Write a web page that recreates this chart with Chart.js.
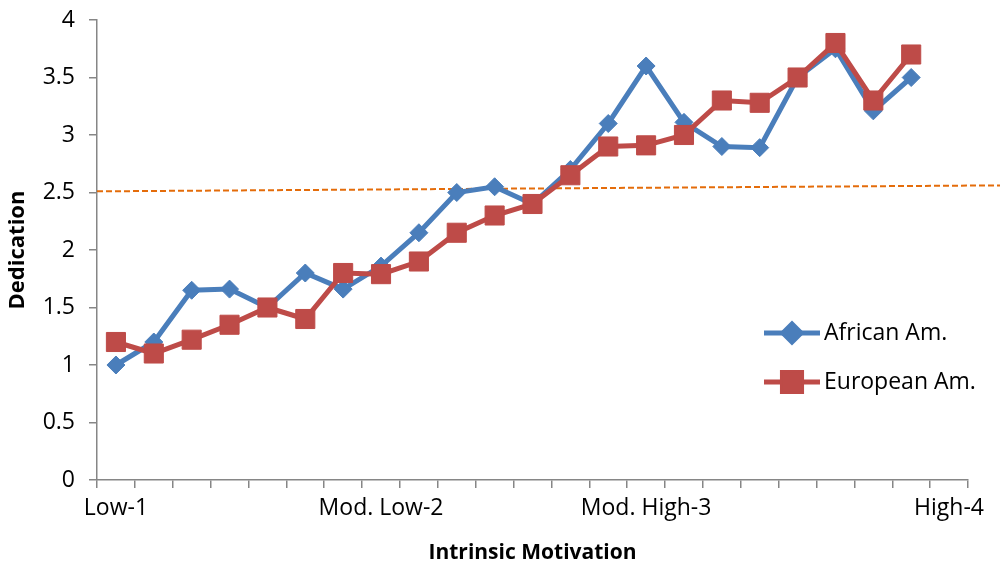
<!DOCTYPE html>
<html lang="en">
<head>
  <meta charset="UTF-8" />
  <title>Dedication by Intrinsic Motivation</title>
  <script src="https://cdn.jsdelivr.net/npm/chart.js"></script>
  <style>
    body {
      margin: 0;
      background: #fff;
    }
    #wrap {
      width: 1000px;
      height: 566px;
    }
  </style>
</head>
<body>
  <div id="wrap">
    <canvas id="lineChart" width="1000" height="566"></canvas>
  </div>

  <script>
    // 23 category slots, only four of them labelled
    const categories = [
      'Low-1', '', '', '', '', '', '',
      'Mod. Low-2', '', '', '', '', '', '',
      'Mod. High-3', '', '', '', '', '', '', '',
      'High-4'
    ];
    const africanAm = [1.0, 1.2, 1.65, 1.66, 1.5, 1.8, 1.66, 1.86, 2.15, 2.5, 2.55, 2.4,
      2.7, 3.1, 3.6, 3.11, 2.9, 2.89, 3.5, 3.75, 3.21, 3.5, null];
    const europeanAm = [1.2, 1.1, 1.22, 1.35, 1.5, 1.4, 1.8, 1.79, 1.9, 2.15, 2.3, 2.4,
      2.65, 2.9, 2.91, 3.0, 3.3, 3.28, 3.5, 3.8, 3.3, 3.7, null];
    const yTicks = [0, 0.5, 1, 1.5, 2, 2.5, 3, 3.5, 4];

    // dashed reference line, value at the left and right edge of the plot
    const refLine = [2.51, 2.56];

    const blue = '#4a7ebb';
    const red = '#be4b48';
    const axisGray = '#868686';
    const font = "'Open Sans', sans-serif";

    // dashed orange line, runs on past the plot to the canvas edge
    const refLinePlugin = {
      id: 'refLine',
      beforeDatasetsDraw(chart) {
        const { ctx, chartArea, scales } = chart;
        const y0 = scales.y.getPixelForValue(refLine[0]);
        const y1 = scales.y.getPixelForValue(refLine[1]);
        const slope = (y1 - y0) / (chartArea.right - chartArea.left);
        const xEnd = chart.width;
        ctx.save();
        ctx.strokeStyle = '#e46c0a';
        ctx.lineWidth = 2;
        ctx.setLineDash([6, 3]);
        ctx.beginPath();
        ctx.moveTo(chartArea.left, y0);
        ctx.lineTo(xEnd, y0 + slope * (xEnd - chartArea.left));
        ctx.stroke();
        ctx.restore();
      }
    };

    // legend drawn inside the plot, lower right
    const innerLegend = {
      id: 'innerLegend',
      afterDatasetsDraw(chart) {
        const { ctx, chartArea } = chart;
        const x = chartArea.right - 204;
        let y = chartArea.top + 313;
        ctx.save();
        chart.data.datasets.forEach(ds => {
          ctx.strokeStyle = ds.borderColor;
          ctx.lineWidth = 5;
          ctx.beginPath();
          ctx.moveTo(x, y);
          ctx.lineTo(x + 56, y);
          ctx.stroke();
          Chart.helpers.drawPoint(ctx, {
            pointStyle: ds.pointStyle,
            radius: ds.pointRadius,
            borderWidth: 1
          }, x + 28, y);
          ctx.fillStyle = ds.backgroundColor;
          ctx.fill();
          ctx.fillStyle = '#000';
          ctx.font = '23px ' + font;
          ctx.textBaseline = 'middle';
          ctx.fillText(ds.label, x + 60, y);
          y += 49;
        });
        ctx.restore();
      }
    };

    const ctx = document.getElementById('lineChart').getContext('2d');
    new Chart(ctx, {
      type: 'line',
      data: {
        labels: categories,
        datasets: [
          {
            label: 'African Am.',
            data: africanAm,
            borderColor: blue,
            backgroundColor: blue,
            borderWidth: 5,
            pointStyle: 'rectRot',
            pointRadius: 9,
            pointBorderWidth: 1,
            tension: 0,
            order: 1
          },
          {
            label: 'European Am.',
            data: europeanAm,
            borderColor: red,
            backgroundColor: red,
            borderWidth: 5,
            pointStyle: 'rect',
            pointRadius: 13.5,
            pointBorderWidth: 1,
            tension: 0,
            order: 0
          }
        ]
      },
      options: {
        responsive: false,
        animation: false,
        layout: {
          padding: { top: 20, right: 32, left: 0, bottom: 0 }
        },
        plugins: {
          legend: { display: false },
          tooltip: { enabled: false }
        },
        scales: {
          x: {
            offset: true,
            grid: {
              offset: true,
              drawOnChartArea: false,
              drawTicks: true,
              tickLength: 8,
              color: axisGray,
              lineWidth: 1.5
            },
            border: { display: true, color: axisGray, width: 1.5 },
            ticks: {
              autoSkip: false,
              maxRotation: 0,
              minRotation: 0,
              padding: 7,
              color: '#000',
              font: { family: font, size: 23 }
            },
            title: {
              display: true,
              text: 'Intrinsic Motivation',
              color: '#000',
              font: { family: font, size: 21, weight: 'bold' },
              padding: { top: 2, bottom: 0 }
            },
            afterFit(scale) {
              scale.height = 86;
            }
          },
          y: {
            min: 0,
            max: 4,
            afterBuildTicks(scale) {
              scale.ticks = yTicks.map(v => ({ value: v }));
            },
            grid: {
              drawOnChartArea: false,
              drawTicks: true,
              tickLength: 8,
              color: axisGray,
              lineWidth: 1.5
            },
            border: { display: true, color: axisGray, width: 1.5 },
            ticks: {
              padding: 14,
              color: '#000',
              font: { family: font, size: 23 },
              callback: value => String(value)
            },
            title: {
              display: true,
              text: 'Dedication',
              color: '#000',
              font: { family: font, size: 22, weight: 'bold' },
              padding: { top: 5, bottom: 0 }
            },
            afterFit(scale) {
              scale.width = 97;
              // top label may stick out; let the layout padding decide
              scale.paddingTop = 0;
              scale.paddingBottom = 0;
            }
          }
        }
      },
      plugins: [refLinePlugin, innerLegend]
    });
  </script>
</body>
</html>
